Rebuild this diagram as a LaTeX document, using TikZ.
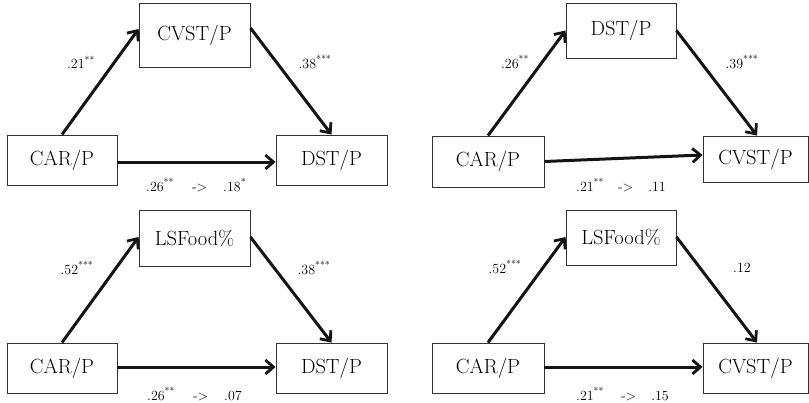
\documentclass[tikz,border=0pt]{standalone}
\usetikzlibrary{arrows.meta}
\begin{document}
\begin{tikzpicture}[x=1pt,y=-1pt,
  varbox/.style={draw=black!80,line width=0.9pt,inner sep=0pt,font=\fontsize{20.5}{24}\selectfont},
  patharrow/.style={line width=3pt,draw=black!92,-{Straight Barb[length=8pt,width=14pt,line width=2.8pt]}},
  coef/.style={inner sep=0pt,font=\fontsize{14}{16}\selectfont}
]
\useasboundingbox (0,0) rectangle (809,402);
\newcommand{\sstar}[1]{\textsuperscript{#1}}
\newcommand{\arr}{-\textgreater}
% Panel 1
\node[varbox,minimum width=111pt,minimum height=64pt] (cvst1) at (194.5,35) {CVST/P};
\node[varbox,minimum width=110pt,minimum height=50pt] (car1) at (62,160) {CAR/P};
\node[varbox,minimum width=111pt,minimum height=50pt] (dst1) at (331.5,160) {DST/P};
\draw[patharrow] (car1.north) -- ([yshift=6pt]cvst1.west);
\draw[patharrow] ([yshift=7pt]cvst1.east) -- (dst1.north);
\draw[patharrow] ([yshift=-2pt]car1.east) -- ([yshift=-2pt]dst1.west);
\node[coef] (l1a) at (81,62) {.21\sstar{**}};
\node[coef] (l1b) at (315,62) {.38\sstar{***}};
\node[coef,anchor=west] (l1c) at (146,185) {.26\sstar{**}\hspace{18pt}\arr\hspace{16pt}.18\sstar{*}};
% Panel 2
\node[varbox,minimum width=110pt,minimum height=55pt] (dst2) at (621,30.5) {DST/P};
\node[varbox,minimum width=112pt,minimum height=51pt] (car2) at (488,161.5) {CAR/P};
\node[varbox,minimum width=105pt,minimum height=46pt] (cvst2) at (755.5,159) {CVST/P};
\draw[patharrow] (car2.north) -- (dst2.west);
\draw[patharrow] (dst2.east) -- ([xshift=1.5pt]cvst2.north);
\draw[patharrow] (car2.east) -- ([yshift=4pt]cvst2.west);
\node[coef] (l2a) at (515,62) {.26\sstar{**}};
\node[coef] (l2b) at (742,62) {.39\sstar{***}};
\node[coef,anchor=west] (l2c) at (576,185) {.21\sstar{**}\hspace{14pt}\arr\hspace{15pt}.11};
% Panel 3
\node[varbox,minimum width=111pt,minimum height=56pt] (ls3) at (194.5,238) {LSFood\%};
\node[varbox,minimum width=110pt,minimum height=50pt] (car3) at (62,368) {CAR/P};
\node[varbox,minimum width=111pt,minimum height=50pt] (dst3) at (331.5,368) {DST/P};
\draw[patharrow] (car3.north) -- ([yshift=1pt]ls3.west);
\draw[patharrow] ([yshift=1pt]ls3.east) -- (dst3.north);
\draw[patharrow] ([yshift=1pt]car3.east) -- ([yshift=1pt]dst3.west);
\node[coef] (l3a) at (77,268) {.52\sstar{***}};
\node[coef] (l3b) at (314,268) {.38\sstar{***}};
\node[coef,anchor=west] (l3c) at (147,394) {.26\sstar{**}\hspace{18pt}\arr\hspace{16pt}.07};
% Panel 4
\node[varbox,minimum width=110pt,minimum height=55pt] (ls4) at (621,237.5) {LSFood\%};
\node[varbox,minimum width=112pt,minimum height=50pt] (car4) at (488,368) {CAR/P};
\node[varbox,minimum width=105pt,minimum height=50pt] (cvst4) at (755.5,368) {CVST/P};
\draw[patharrow] (car4.north) -- ([yshift=0.5pt]ls4.west);
\draw[patharrow] ([yshift=0.5pt]ls4.east) -- ([xshift=1.5pt]cvst4.north);
\draw[patharrow] ([yshift=1pt]car4.east) -- ([yshift=1pt]cvst4.west);
\node[coef] (l4a) at (505,267) {.52\sstar{***}};
\node[coef] (l4b) at (742,268) {.12};
\node[coef,anchor=west] (l4c) at (576,394) {.21\sstar{**}\hspace{17pt}\arr\hspace{15pt}.15};
\end{tikzpicture}
\end{document}
